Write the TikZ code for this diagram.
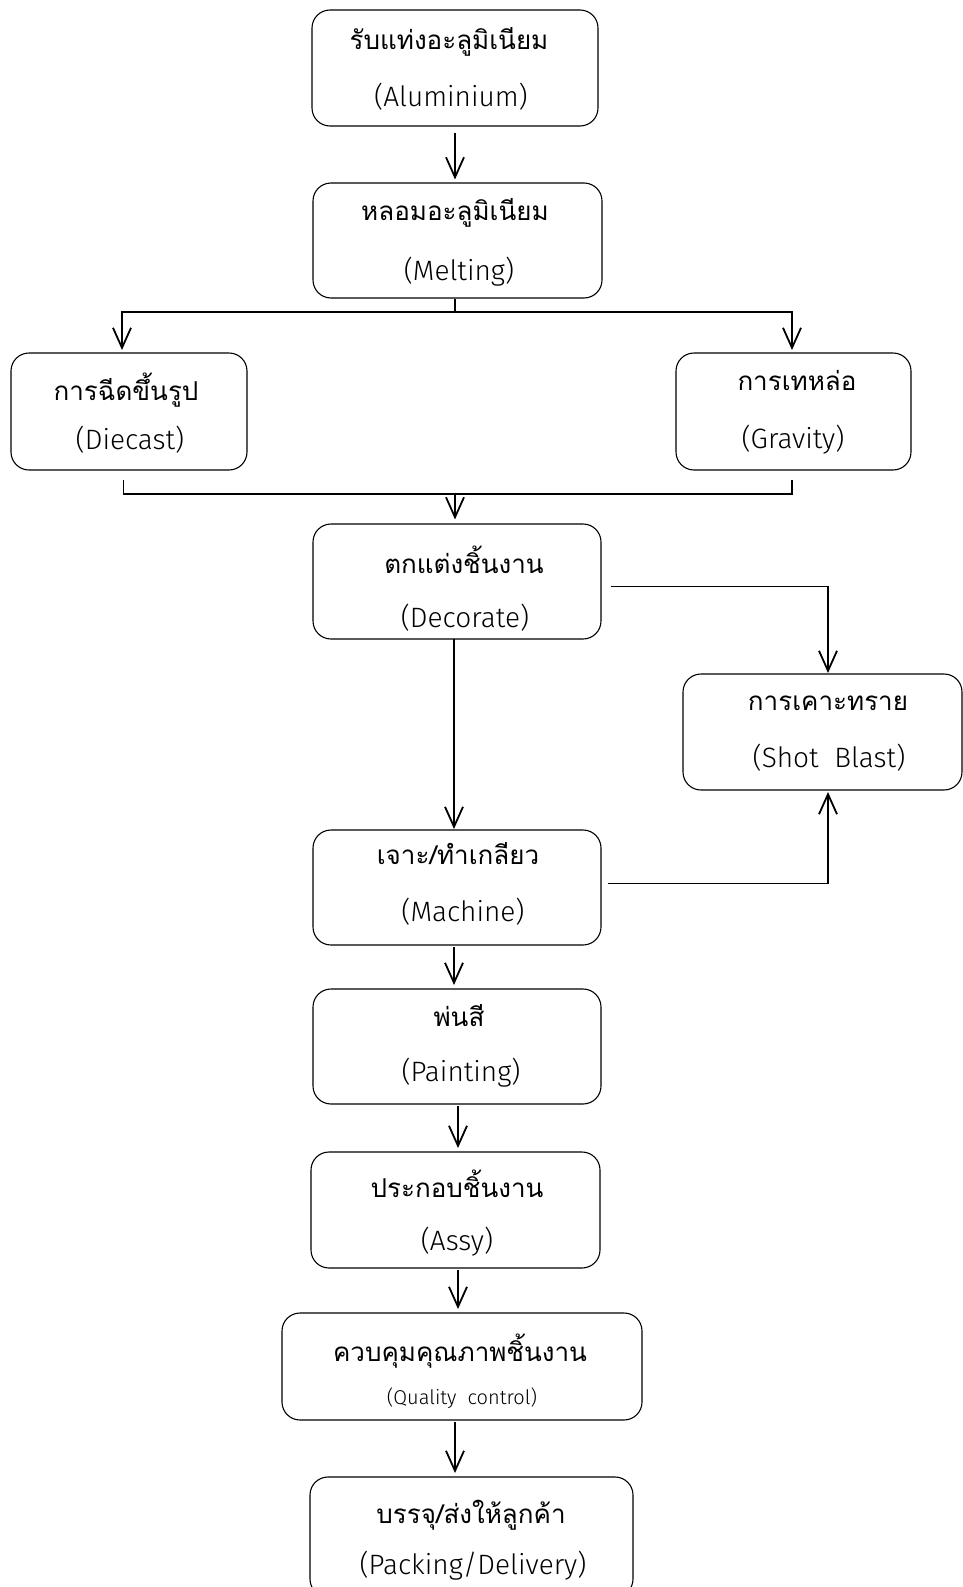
\documentclass[tikz,border=0pt]{standalone}
\usepackage{fontspec}
\newfontfamily\thai[Script=Thai]{Loma}
\newfontfamily\lat{Fira Sans Light}
\usetikzlibrary{arrows.meta,calc}
\begin{document}
\begin{tikzpicture}[x=1pt,y=-1pt,
  box/.style={draw, rounded corners=18pt, line width=1.1pt, inner sep=0pt},
  t/.style={font=\thai\fontsize{26}{31}\selectfont, inner sep=0pt},
  e/.style={font=\lat\fontsize{28}{32}\selectfont, inner sep=0pt},
  es/.style={font=\lat\fontsize{20}{24}\selectfont, inner sep=0pt},
  conn/.style={line width=1.8pt},
  arr/.style={line width=1.8pt, -{Straight Barb[length=20pt,width=18pt]}}]
\useasboundingbox (0,0) rectangle (963,1587);
% boxes
\node[box,minimum width=286pt,minimum height=116pt] (b1) at (455,68) {};
\node[box,minimum width=289pt,minimum height=115pt] (b2) at (457.5,240.5) {};
\node[box,minimum width=236pt,minimum height=117pt] (diecast) at (129,411.5) {};
\node[box,minimum width=235pt,minimum height=117pt] (gravity) at (793.5,411.5) {};
\node[box,minimum width=288pt,minimum height=115pt] (decorate) at (457,581.5) {};
\node[box,minimum width=279pt,minimum height=116pt] (shot) at (822.5,732) {};
\node[box,minimum width=288pt,minimum height=115pt] (machine) at (457,887.5) {};
\node[box,minimum width=288pt,minimum height=115pt] (painting) at (457,1046.5) {};
\node[box,minimum width=289pt,minimum height=116pt] (assy) at (455.5,1210) {};
\node[box,minimum width=360pt,minimum height=107pt] (qc) at (462,1366.5) {};
\node[box,minimum width=323pt,minimum height=120pt] (pack) at (471.5,1537) {};
% texts
\node[t] (b1a) at (449,42) {รับแท่งอะลูมิเนียม};
\node[e] (b1b) at (451,97) {(Aluminium)};
\node[t] (b2a) at (455,213) {หลอมอะลูมิเนียม};
\node[e] (b2b) at (459,272) {(Melting)};
\node[t] (da) at (126,390) {การฉีดขึ้นรูป};
\node[e] (db) at (130,440) {(Diecast)};
\node[t] (ga) at (797,380) {การเทหล่อ};
\node[e] (gb) at (793,440) {(Gravity)};
\node[t] (dea) at (464,560) {ตกแต่งชิ้นงาน};
\node[e] (deb) at (465,618) {(Decorate)};
\node[t] (sa) at (828,703) {การเคาะทราย};
\node[e] (sb) at (829,758) {(Shot~~Blast)};
\node[t] (ma) at (458,854) {เจาะ/ทำเกลียว};
\node[e] (mb) at (463,912) {(Machine)};
\node[t] (pa) at (459,1016) {พ่นสี};
\node[e] (pb) at (461,1073) {(Painting)};
\node[t] (aa) at (457,1184) {ประกอบชิ้นงาน};
\node[e] (ab) at (457,1242) {(Assy)};
\node[t] (qa) at (460,1351) {ควบคุมคุณภาพชิ้นงาน};
\node[es] (qb) at (462,1398) {(Quality~~control)};
\node[t] (ka) at (471,1515) {บรรจุ/ส่งให้ลูกค้า};
\node[e] (kb) at (473,1566) {(Packing/Delivery)};
% connectors
\draw[arr, shorten <=6pt, shorten >=3pt] (b1.south) -- (b1.south |- b2.north);
\coordinate (split) at (455,312);
\draw[conn] (split |- b2.south) -- (split);
\draw[arr, shorten >=4pt] (split) -| (122,354);
\draw[arr, shorten >=4pt] (split) -| (792,354);
\coordinate (merge) at (455,494);
\draw[conn] (123.5,480) |- (merge);
\draw[conn] (792,480) |- (merge);
\draw[arr, shorten >=4pt] (merge) -- (merge |- decorate.north);
\draw[arr, shorten >=1pt] ($(decorate.east)+(9,5)$) -| (828,674);
\draw[arr, shorten >=1pt] (454,639) -- (454,830);
\draw[arr, shorten >=2pt] ($(machine.east)+(6,-4)$) -| (828,790);
\draw[arr, shorten <=2pt, shorten >=4pt] (454,945) -- (454,989);
\draw[arr, shorten <=2pt, shorten >=4pt] (458,1104) -- (458,1152);
\draw[arr, shorten <=2pt, shorten >=4pt] (458,1268) -- (458,1313);
\draw[arr, shorten <=2pt, shorten >=4pt] (455,1420) -- (455,1477);
\end{tikzpicture}
\end{document}
